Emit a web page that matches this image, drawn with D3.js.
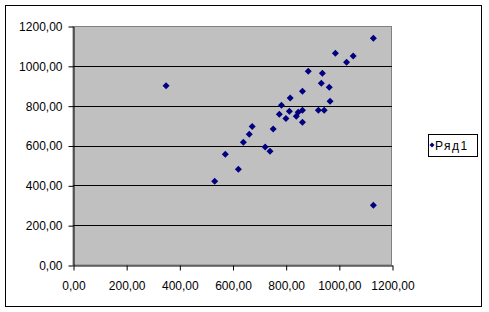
<!DOCTYPE html>
<html>
<head>
<meta charset="utf-8">
<script src="https://cdn.jsdelivr.net/npm/d3@7"></script>
<style>
  body { margin: 0; background: #fff; }
  svg text { font-family: "Liberation Sans", Arial, sans-serif; font-size: 12px; fill: #000; }
</style>
</head>
<body>
<svg id="chart" width="489" height="312"></svg>
<script>
// series "Ряд1" (x, y pairs)
const xValues = [350, 533, 573, 622, 641, 663, 674, 723, 741, 753, 776, 784, 801, 814, 817, 840,
  847, 863, 863, 863, 885, 923, 934, 938, 945, 964, 967, 987, 1029, 1054, 1130, 1130];
const yValues = [900, 420, 556, 481, 616, 656, 696, 592, 571, 683, 757, 802, 736, 772, 838, 747,
  767, 777, 717, 872, 973, 777, 913, 963, 777, 892, 822, 1063, 1018, 1049, 1138, 300];
const seriesName = 'Ряд1';
const xTicks = [0, 200, 400, 600, 800, 1000, 1200];
const yTicks = [0, 200, 400, 600, 800, 1000, 1200];

const points = xValues.map((x, i) => ({ x, y: yValues[i] }));

const svg = d3.select('#chart');
const plot = { left: 73, top: 26, right: 392, bottom: 265 };

const fmt = d3.formatLocale({ decimal: ',', thousands: '', grouping: [3], currency: ['', ''] }).format('.2f');

const x = d3.scaleLinear().domain([0, 1200]).range([plot.left, plot.right]);
const y = d3.scaleLinear().domain([0, 1200]).range([plot.bottom, plot.top]);

// outer chart border
svg.append('rect')
  .attr('x', 5.5).attr('y', 5.5)
  .attr('width', 476).attr('height', 301)
  .attr('fill', '#fff').attr('stroke', '#000');

// plot area
svg.append('rect')
  .attr('x', plot.left).attr('y', plot.top + 0.5)
  .attr('width', plot.right - plot.left - 0.5).attr('height', plot.bottom - plot.top - 0.5)
  .attr('fill', '#c0c0c0').attr('stroke', '#808080');

// horizontal gridlines
svg.append('g')
  .selectAll('line')
  .data(yTicks.filter(d => d > 0 && d < 1200))
  .enter()
  .append('line')
  .attr('x1', plot.left).attr('x2', plot.right)
  .attr('y1', d => Math.round(y(d)) + 0.5).attr('y2', d => Math.round(y(d)) + 0.5)
  .attr('stroke', '#000');

const yAxis = svg.append('g')
  .attr('transform', `translate(${plot.left + 0.5},0.5)`)
  .call(d3.axisLeft(y).tickValues(yTicks).tickFormat(fmt).tickSize(5).tickSizeOuter(0).tickPadding(6));

const xAxis = svg.append('g')
  .attr('transform', `translate(0.5,${plot.bottom + 0.5})`)
  .call(d3.axisBottom(x).tickValues(xTicks).tickFormat(fmt).tickSize(5).tickSizeOuter(0).tickPadding(11));

[yAxis, xAxis].forEach(g => {
  g.attr('font-family', null).attr('font-size', null);
  g.selectAll('line, path').attr('stroke', '#000');
});

const diamond = r => `M0,${-r}L${r},0L0,${r}L${-r},0Z`;

svg.append('g')
  .selectAll('path')
  .data(points)
  .enter()
  .append('path')
  .attr('d', diamond(3.5))
  .attr('transform', d => `translate(${x(d.x)},${y(d.y)})`)
  .attr('fill', '#000080');

// legend
const legend = svg.append('g');
legend.append('rect')
  .attr('x', 428.5).attr('y', 134.5)
  .attr('width', 49).attr('height', 22)
  .attr('fill', '#fff').attr('stroke', '#000');
legend.append('path')
  .attr('d', diamond(2.5))
  .attr('transform', 'translate(432,145)')
  .attr('fill', '#000080');
legend.append('text')
  .attr('x', 435).attr('y', 149.5)
  .style('letter-spacing', '1.5px')
  .text(seriesName);
</script>
</body>
</html>
